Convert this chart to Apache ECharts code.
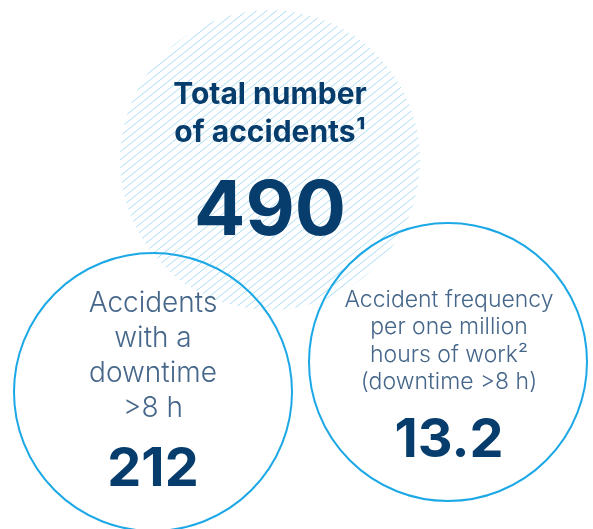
<!DOCTYPE html>
<html>
<head>
<meta charset="utf-8">
<script src="https://cdn.jsdelivr.net/npm/echarts@6/dist/echarts.min.js"></script>
<style>
  html, body { margin: 0; padding: 0; background: #fff; }
  #chart { width: 593px; height: 529px; }
</style>
</head>
<body>
<div id="chart"></div>
<script>
// figures shown in the three bubbles
const labels = [
  'Total number\nof accidents¹',
  'Accidents\nwith a\ndowntime\n>8 h',
  'Accident frequency\nper one million\nhours of work²\n(downtime >8 h)'
];
const values = [490, 212, 13.2];

const navy = '#073d6c';
const lightText = '#46678a';
const ring = '#1ca8e6';
const font = 'Inter, Lato, sans-serif';

// hatch tile for the big circle
function makeHatch() {
  const c = document.createElement('canvas');
  c.width = 10;
  c.height = 8;
  const ctx = c.getContext('2d');
  ctx.strokeStyle = '#a8dcf4';
  ctx.lineWidth = 1;
  [-10, 0, 10].forEach(function (dx) {
    ctx.beginPath();
    ctx.moveTo(dx, 8);
    ctx.lineTo(dx + 10, 0);
    ctx.stroke();
  });
  return c;
}

const chart = echarts.init(document.getElementById('chart'));

const option = {
  backgroundColor: '#fff',
  graphic: [
    {
      type: 'circle',
      shape: { cx: 270, cy: 160, r: 150 },
      style: { fill: { image: makeHatch(), repeat: 'repeat' } },
      z: 1
    },
    {
      type: 'circle',
      shape: { cx: 153, cy: 392, r: 139 },
      style: { fill: 'none', stroke: ring, lineWidth: 2 },
      z: 2
    },
    {
      type: 'circle',
      shape: { cx: 448, cy: 362, r: 139 },
      style: { fill: 'none', stroke: ring, lineWidth: 2 },
      z: 2
    },
    // big circle text
    {
      type: 'text',
      x: 270, y: 76,
      style: {
        text: labels[0], align: 'center', verticalAlign: 'top',
        fontFamily: font, fontWeight: 'bold', fontSize: 30, lineHeight: 38, fill: navy
      },
      z: 3
    },
    {
      type: 'text',
      x: 270, y: 174,
      style: {
        text: String(values[0]), align: 'center', verticalAlign: 'top',
        fontFamily: font, fontWeight: 'bold', fontSize: 76, fill: navy
      },
      z: 3
    },
    // left circle text
    {
      type: 'text',
      x: 153, y: 286,
      style: {
        text: labels[1], align: 'center', verticalAlign: 'top',
        fontFamily: font, fontWeight: 300, fontSize: 28, lineHeight: 35, fill: lightText
      },
      z: 3
    },
    {
      type: 'text',
      x: 153, y: 443,
      style: {
        text: String(values[1]), align: 'center', verticalAlign: 'top',
        fontFamily: font, fontWeight: 'bold', fontSize: 54, fill: navy
      },
      z: 3
    },
    // right circle text
    {
      type: 'text',
      x: 449, y: 286,
      style: {
        text: labels[2], align: 'center', verticalAlign: 'top',
        fontFamily: font, fontWeight: 300, fontSize: 23, lineHeight: 27.5, fill: lightText
      },
      z: 3
    },
    {
      type: 'text',
      x: 449, y: 414,
      style: {
        text: String(values[2]), align: 'center', verticalAlign: 'top',
        fontFamily: font, fontWeight: 'bold', fontSize: 54, fill: navy
      },
      z: 3
    }
  ]
};

chart.setOption(option);
</script>
</body>
</html>
